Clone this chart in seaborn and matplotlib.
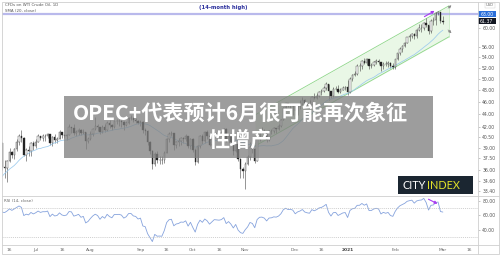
import numpy as np
import pandas as pd
import matplotlib
matplotlib.use("Agg")
import matplotlib.pyplot as plt
import seaborn as sns
from matplotlib.patches import Rectangle, FancyArrowPatch
from matplotlib.ticker import FixedLocator, FixedFormatter, NullLocator

# ---------------- data (read / estimated from the picture) ----------------
# warm-up closes (off-screen, May 1 - Jun 9 2020) used by the indicators
warmup_closes = [19.78, 20.39, 24.56, 23.99, 23.55, 24.74, 24.14, 25.78, 25.29, 27.56,
                 29.43, 31.82, 32.50, 33.49, 33.92, 33.25, 33.60, 34.35, 32.81, 33.71,
                 35.49, 35.44, 36.81, 37.29, 37.41, 39.55, 38.19, 38.94]

# visible candles Jun 10 2020 - Mar 1 2021
closes = [
    39.60, 36.34, 36.26, 37.12, 38.38, 37.96, 38.84, 39.75, 40.73, 40.37, 38.01, 38.72, 38.49, 39.70, 39.27,
    39.82, 40.65, 40.30, 40.63, 40.62, 40.90, 39.62, 40.55, 40.10, 40.29, 41.20, 40.75, 40.59, 40.81, 41.96,
    41.90, 41.07, 41.29, 41.60, 41.04, 41.27, 39.92, 40.27,
    41.01, 41.70, 42.19, 41.95, 41.22, 41.94, 41.61, 42.67, 42.24, 42.01, 42.89, 42.89, 42.93, 42.82, 42.34,
    42.62, 43.35, 43.39, 43.04, 42.97, 42.61,
    42.76, 41.51, 41.37, 39.77, 38.50, 36.76, 38.05, 37.30, 37.33, 37.26, 38.28, 40.16, 40.97, 41.11, 39.31,
    39.80, 39.93, 40.31, 40.25, 40.60, 39.29, 40.22,
    38.72, 37.05, 39.22, 40.67, 39.95, 41.19, 40.60, 39.43, 40.20, 41.04, 40.96, 40.88, 41.06, 41.70, 40.03,
    40.64, 39.85, 38.56, 39.57, 37.39, 36.17, 35.79,
    36.81, 37.66, 39.15, 38.79, 37.14, 40.29, 41.36, 41.45, 41.12, 40.13, 41.34, 41.43, 41.82, 41.74, 42.15,
    43.06, 44.91, 45.71, 45.40, 45.53, 45.34,
    44.55, 45.28, 45.64, 46.26, 45.76, 45.60, 45.52, 46.78, 46.57, 46.99, 47.62, 47.82, 48.36, 49.10, 47.74,
    47.02, 48.12, 48.23, 47.62, 48.00, 48.40, 48.52,
    47.62, 49.93, 50.63, 50.83, 52.24, 52.25, 53.21, 52.91, 53.57, 52.36, 52.40, 52.98, 53.24, 53.13, 52.27,
    52.77, 52.61, 52.85, 52.34, 52.20,
    53.55, 54.76, 55.69, 56.23, 56.85, 57.97, 58.36, 58.68, 58.24, 59.47, 59.90, 60.05, 61.14, 60.52, 59.24,
    61.49, 61.67, 63.22, 63.53, 61.50,
    61.37]
highs = [
    39.70, 39.80, 37.30, 37.35, 38.96, 38.50, 39.00, 40.20, 40.90, 41.60, 40.50, 38.90, 39.20, 39.80, 39.90,
    40.20, 41.00, 40.70, 40.90, 41.00, 41.10, 41.00, 40.70, 41.00, 40.50, 41.60, 41.30, 41.00, 41.00, 42.40,
    42.00, 42.50, 41.60, 41.80, 41.70, 41.70, 41.30, 40.50,
    41.40, 41.90, 43.50, 42.50, 42.00, 42.30, 42.40, 42.90, 43.00, 42.40, 43.00, 43.30, 43.20, 43.00, 42.90,
    42.90, 43.60, 43.80, 43.60, 43.40, 43.10,
    43.00, 42.90, 41.80, 41.50, 39.90, 38.60, 38.40, 38.50, 37.90, 37.90, 38.50, 40.40, 41.20, 41.40, 41.10,
    40.00, 40.30, 40.50, 40.50, 41.00, 40.70, 40.40,
    40.30, 38.90, 39.40, 40.80, 40.90, 41.40, 41.50, 40.70, 40.40, 41.30, 41.10, 41.20, 41.40, 41.90, 41.80,
    40.80, 40.70, 39.90, 39.80, 39.60, 37.50, 36.40,
    37.00, 38.00, 39.80, 39.40, 38.90, 40.80, 41.60, 42.00, 41.70, 41.20, 41.60, 41.70, 42.00, 41.90, 42.50,
    43.30, 45.10, 46.00, 45.80, 45.80, 45.70,
    45.50, 45.40, 46.20, 46.70, 46.50, 46.00, 46.20, 46.90, 47.50, 47.50, 47.80, 48.20, 48.60, 49.30, 49.10,
    47.80, 48.50, 48.60, 48.90, 48.30, 48.60, 48.60,
    49.80, 50.20, 50.90, 51.30, 52.70, 52.80, 53.50, 53.90, 53.90, 53.60, 52.80, 53.30, 53.60, 53.70, 53.10,
    53.10, 53.20, 53.20, 53.10, 52.80,
    53.70, 54.90, 55.90, 56.40, 57.00, 58.10, 58.60, 58.90, 58.80, 59.80, 60.90, 60.80, 61.30, 62.20, 60.60,
    61.90, 62.30, 63.40, 63.80, 63.60,
    62.50]
lows = [
    38.40, 35.98, 35.00, 34.40, 37.00, 37.50, 37.40, 38.50, 39.30, 39.80, 37.80, 37.10, 37.90, 37.80, 38.70,
    38.90, 39.80, 40.10, 39.90, 40.00, 40.30, 39.40, 39.20, 39.70, 39.60, 40.20, 40.40, 40.30, 40.10, 40.80,
    41.10, 40.80, 40.60, 40.80, 40.80, 40.90, 38.80, 39.60,
    40.10, 40.70, 41.60, 41.40, 40.90, 41.10, 41.30, 41.40, 41.90, 41.50, 41.90, 42.50, 42.20, 42.00, 41.50,
    42.10, 42.40, 43.00, 42.70, 42.60, 42.40,
    42.10, 41.10, 40.80, 39.40, 38.10, 36.13, 36.50, 36.90, 36.80, 36.80, 36.90, 38.20, 39.80, 40.60, 38.60,
    38.90, 39.20, 39.40, 39.70, 39.90, 38.90, 38.80,
    38.40, 36.60, 36.90, 38.90, 39.50, 39.70, 40.20, 39.20, 39.20, 40.00, 39.90, 40.50, 40.50, 40.80, 39.80,
    39.60, 39.50, 38.00, 38.40, 37.10, 35.00, 34.90,
    33.64, 36.60, 37.30, 38.30, 36.90, 37.10, 40.00, 41.10, 40.80, 39.80, 39.90, 40.90, 41.10, 41.10, 41.50,
    42.00, 43.00, 44.80, 45.20, 44.90, 43.90,
    43.90, 43.80, 44.80, 45.40, 45.50, 45.10, 45.20, 45.60, 46.40, 46.40, 46.80, 47.20, 47.70, 48.00, 46.20,
    46.60, 46.80, 47.90, 47.50, 47.40, 47.90, 47.90,
    47.20, 47.50, 49.50, 50.40, 50.70, 51.30, 51.80, 52.60, 52.50, 51.80, 51.90, 52.30, 52.70, 52.70, 51.40,
    51.80, 52.30, 52.20, 51.90, 51.80,
    51.80, 53.50, 54.50, 55.10, 56.00, 56.80, 57.30, 57.80, 57.70, 57.90, 59.30, 59.20, 59.60, 60.10, 58.60,
    58.90, 60.60, 60.70, 62.90, 61.10,
    60.90]

price_ticks = [33.4, 34.6, 36.0, 37.5, 39.0, 40.5, 42.0, 44.0, 46.0, 48.0, 50.0, 52.0, 54.0, 56.0, 60.0]
rsi_ticks = [40, 60, 80]
xtick_dates = ["2020-06-16", "2020-07-01", "2020-07-16", "2020-08-03", "2020-09-01", "2020-09-16",
               "2020-10-01", "2020-10-16", "2020-11-02", "2020-12-01", "2020-12-16", "2021-01-04",
               "2021-02-01", "2021-03-01", "2021-03-16"]
xtick_labels = ["16", "Jul", "16", "Aug", "Sep", "16", "Oct", "16", "Nov", "Dec", "16", "2021",
                "Feb", "Mar", "16"]
high_level = 63.00
last_price = 61.37

# ---------------- derived series ----------------
all_close = np.array(warmup_closes + closes, dtype=float)
n_warm = len(warmup_closes)
axis_dates = pd.bdate_range("2020-05-01", "2021-03-31")
axis_dates = axis_dates[~axis_dates.isin(pd.to_datetime(["2020-12-25", "2021-01-01"]))]
pos_of = {d: i for i, d in enumerate(axis_dates)}
pos = np.arange(len(all_close))

opens = np.concatenate([[all_close[n_warm - 1]], np.array(closes[:-1])])
vis_pos = pos[n_warm:]
c = np.array(closes); h = np.array(highs); l = np.array(lows)

s = pd.Series(all_close)
sma20 = s.rolling(20).mean().values
d = s.diff()
gain = d.clip(lower=0).ewm(alpha=1 / 14, adjust=False).mean()
loss = (-d.clip(upper=0)).ewm(alpha=1 / 14, adjust=False).mean()
rsi = (100 - 100 / (1 + gain / loss)).values
rsi[:14] = np.nan

# ---------------- figure ----------------
sns.set_theme(style="white")
plt.rcParams["font.family"] = ["DejaVu Sans"]
W, H = 500, 256
fig = plt.figure(figsize=(5.0, 2.56), dpi=100, facecolor="white")

def fr(x0, y0, x1, y1):
    return [x0 / W, 1 - y1 / H, (x1 - x0) / W, (y1 - y0) / H]

axp = fig.add_axes(fr(2, 2, 478, 196))
axr = fig.add_axes(fr(2, 196, 478, 245), sharex=axp)
ov = fig.add_axes([0, 0, 1, 1], zorder=10)
ov.set_xlim(0, W); ov.set_ylim(H, 0); ov.axis("off"); ov.patch.set_alpha(0)

I0 = pos_of[pd.Timestamp("2020-06-16")]
PX0, DX = 9.5, 2.381
def px2i(px):
    return I0 + (px - PX0) / DX
def py2p(py):
    return 56.0 * np.exp((47.0 - py) / 278.0)

# price panel
axp.set_yscale("log")
axp.set_xlim(px2i(2), px2i(478))
axp.set_ylim(py2p(196), py2p(2))

# channel (drawn first, under candles)
cx = [px2i(255), px2i(449)]
lo = [py2p(146), py2p(146 - 194 * 0.563)]
up = [py2p(115), py2p(115 - 194 * 0.563)]
axp.fill_between(cx, lo, up, color="#cfeec8", alpha=0.45, lw=0, zorder=1)
axp.plot(cx, lo, color="#8fd68a", lw=0.6, zorder=1.5)
axp.plot(cx, up, color="#8fd68a", lw=0.6, zorder=1.5)
axp.plot([cx[1], cx[1]], [lo[1], up[1]], color="#8fd68a", lw=0.4, alpha=0.6, zorder=1.5)

axp.axhline(high_level, color="#b9b9ec", lw=1.6, zorder=1.2)

upc = c >= opens
axp.vlines(vis_pos, l, h, color="#444444", lw=0.4, zorder=2)
body_lo = np.minimum(opens, c)
body_h = np.maximum(np.abs(c - opens), 0.04)
axp.bar(vis_pos, body_h, bottom=body_lo, width=0.6,
        color=np.where(upc, "#ffffff", "#1e1e1e"), edgecolor="#333333", linewidth=0.28, zorder=3)
sns.lineplot(x=pos, y=sma20, ax=axp, color="#9ccbee", linewidth=0.55, zorder=2.5)

axp.yaxis.tick_right()
axp.yaxis.set_major_locator(FixedLocator(price_ticks))
axp.yaxis.set_major_formatter(FixedFormatter(["%.2f" % t for t in price_ticks]))
axp.yaxis.set_minor_locator(NullLocator())
axp.tick_params(axis="y", labelsize=3.3, labelcolor="#555555", color="#999999",
                length=1.5, width=0.4, pad=1.5, right=True)
axp.tick_params(axis="x", bottom=False, labelbottom=False)
axp.set_xlabel(""); axp.set_ylabel("")
for sp in axp.spines.values():
    sp.set_visible(False)

# RSI panel
sns.lineplot(x=pos, y=rsi, ax=axr, color="#86a3dd", linewidth=0.6)
axr.set_ylim(30 - 8 / 0.72, 80 + 5 / 0.72)
for lvl in (70, 30):
    axr.axhline(lvl, color="#bdbdbd", lw=0.5, ls=(0, (1.5, 1.5)))
axr.yaxis.tick_right()
axr.set_yticks(rsi_ticks)
axr.set_yticklabels(["%.2f" % t for t in rsi_ticks])
axr.tick_params(axis="y", labelsize=3.3, labelcolor="#555555", color="#999999",
                length=1.5, width=0.4, pad=1.5)
xt = [pos_of[pd.Timestamp(dd)] for dd in xtick_dates]
axr.set_xticks(xt)
axr.set_xticklabels(xtick_labels)
axr.tick_params(axis="x", labelsize=3.2, labelcolor="#666666", length=0, pad=2)
for lab in axr.get_xticklabels():
    if lab.get_text() == "2021":
        lab.set_fontweight("bold"); lab.set_color("#444444")
axr.set_xlim(px2i(2), px2i(478))
axr.set_xlabel(""); axr.set_ylabel("")
for sp in axr.spines.values():
    sp.set_visible(False)

# frame / separators
ov.add_patch(Rectangle((1.5, 1.5), 497, 252.5, fill=False, ec="#cfcfcf", lw=0.6))
ov.plot([2, 498.5], [196, 196], color="#cfcfcf", lw=0.6)
ov.plot([2, 498.5], [245, 245], color="#cfcfcf", lw=0.6)
ov.plot([478, 478], [1.5, 254], color="#cfcfcf", lw=0.6)

# legend texts
ov.text(5, 5.5, "CFDs on WTI Crude Oil, 1D", fontsize=2.9, color="#555555", va="center")
ov.text(5, 10.5, "SMA (20, close)", fontsize=2.9, color="#555555", va="center")
ov.text(223.5, 7, "(14-month high)", fontsize=3.8, color="#2a2f9c", fontweight="bold",
        ha="center", va="center")
ov.text(4, 201, "RSI (14, close)", fontsize=2.9, color="#666666", va="center")

# price labels on the right axis
ov.add_patch(Rectangle((485, 3), 10, 4.6, fc="white", ec="#cccccc", lw=0.3))
ov.text(490, 5.3, "USD", fontsize=2.6, color="#666666", ha="center", va="center")
ov.add_patch(Rectangle((478, 11), 17.5, 6.2, fc="#2a6fdb", ec="none"))
ov.text(486.7, 14.1, "%.2f" % high_level, fontsize=3.3, color="white", ha="center", va="center")
ov.add_patch(Rectangle((478, 18.2), 17.5, 6.2, fc="#131722", ec="none"))
ov.text(486.7, 21.3, "%.2f" % last_price, fontsize=3.3, color="white", ha="center", va="center")

# arrows
purple = "#a83cf0"
ov.add_patch(FancyArrowPatch((422, 18), (437, 9.5), arrowstyle="-|>", mutation_scale=4,
                             color=purple, lw=0.8))
ov.add_patch(FancyArrowPatch((426, 198), (440, 205), arrowstyle="-|>", mutation_scale=4,
                             color=purple, lw=0.8))
ov.add_patch(FancyArrowPatch((446, 10), (453.5, 3.5), arrowstyle="-|>", mutation_scale=4,
                             color="#8a8a8a", lw=0.5))
ov.add_patch(FancyArrowPatch((446, 28), (453.5, 35), arrowstyle="-|>", mutation_scale=4,
                             color="#8a8a8a", lw=0.5))

# headline overlay
ov.add_patch(Rectangle((64, 96), 369, 62, fc="#7f7f7f", ec="none", alpha=0.76))
cjk = ["Noto Sans CJK SC", "DejaVu Sans"]
ov.text(240, 113.5, "OPEC+代表预计6月很可能再次象征", family=cjk, fontsize=15.2,
        fontweight="bold", color="white", ha="center", va="center")
ov.text(240, 140, "性增产", family=cjk, fontsize=15.2, fontweight="bold",
        color="white", ha="center", va="center")

# CITY INDEX badge
ov.add_patch(Rectangle((398, 176), 75, 18, fc="#1b2631", ec="none"))
ov.text(402.5, 185.5, "CITY", fontsize=7.8, color="white", ha="left", va="center",
        family=["Lato", "DejaVu Sans"])
ov.text(427.5, 185.5, "INDEX", fontsize=7.8, color="#e2e22a", ha="left", va="center",
        family=["Lato", "DejaVu Sans"])

fig.savefig("out.png", dpi=100, facecolor="white")
